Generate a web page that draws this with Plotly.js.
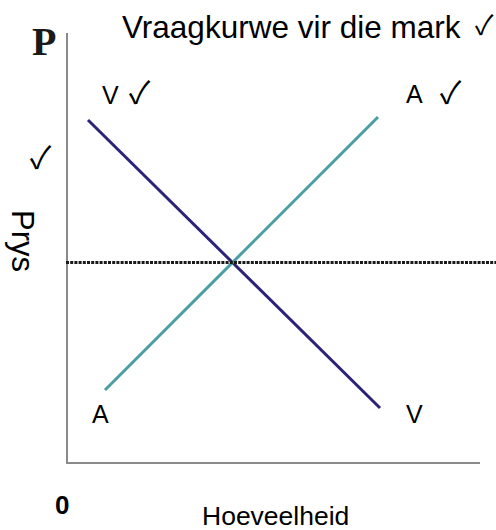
<!DOCTYPE html>
<html><head><meta charset="utf-8">
<script src="https://cdn.plot.ly/plotly-3.0.1.min.js"></script>
<style>html,body{margin:0;padding:0;background:#fff}#c{width:496px;height:530px}</style>
</head><body><div id="c"></div>
<script>
// Data (abstract units: quantity on x, price on y)
const demandQ = [20, 312];
const demandP = [342, 54];
const supplyQ = [37, 310];
const supplyP = [72, 345];
const equilibriumPrice = 199.5;
const titleText = 'Vraagkurwe vir die mark';
const checkMark = '\u2713';
const xTitle = 'Hoeveelheid';
const yTitle = 'Prys';

const F = 'Liberation Sans, Arial, sans-serif';
const CF = 'Noto Sans CJK SC, DejaVu Sans, sans-serif';
const traces = [
  {x: demandQ, y: demandP, mode: 'lines', line: {color: '#2b2279', width: 3}, hoverinfo: 'skip'},
  {x: supplyQ, y: supplyP, mode: 'lines', line: {color: '#4a9ea6', width: 3}, hoverinfo: 'skip'}
];
const ann = (text, x, y, size, extra) => Object.assign({
  text, x, y, xref: 'paper', yref: 'paper', showarrow: false, borderpad: 0,
  xanchor: 'center', yanchor: 'middle', font: {family: F, size, color: '#000'}
}, extra || {});
const chk = (x, y, size) => ann(checkMark, x, y, size, {font: {family: CF, size, color: '#000'}});
// paper coords helpers: plot area px 68..480 (x), 33..462 (y)
const px = v => (v - 68) / 412;
const py = v => (462 - v) / 429;
const layout = {
  width: 496, height: 530,
  margin: {l: 68, r: 16, t: 33, b: 68},
  paper_bgcolor: '#fff', plot_bgcolor: '#fff',
  showlegend: false,
  xaxis: {range: [0, 412], showgrid: false, zeroline: false, showticklabels: false, ticks: '',
          showline: true, linecolor: '#8a8a8a', linewidth: 2, fixedrange: true},
  yaxis: {range: [0, 429], showgrid: false, zeroline: false, showticklabels: false, ticks: '',
          showline: true, linecolor: '#8a8a8a', linewidth: 2, fixedrange: true},
  shapes: [{type: 'line', xref: 'paper', yref: 'y', x0: px(66), x1: px(496),
            y0: equilibriumPrice, y1: equilibriumPrice,
            line: {color: '#1a1a1a', width: 3, dash: '3px,1.2px'}, layer: 'above'}],
  annotations: [
    ann(titleText, px(121), py(27), 31.5, {xanchor: 'left'}),
    chk(px(484), py(24), 27),
    ann('<b>P</b>', px(44), py(42), 40, {font: {family: 'Liberation Serif, Times New Roman, serif', size: 40, color: '#1a1a1a'}}),
    ann(yTitle, px(23), py(241), 31, {textangle: 90}),
    chk(px(41), py(156), 31),
    ann('V', px(110), py(95), 25),
    chk(px(140), py(90), 31),
    ann('A', px(414), py(94), 25),
    chk(px(451), py(90), 31),
    ann('A', px(100), py(414), 25),
    ann('V', px(414), py(414), 25),
    ann('<b>0</b>', px(62), py(505), 26),
    ann(xTitle, px(275), py(516), 26.5)
  ]
};
Plotly.newPlot('c', traces, layout, {staticPlot: true, displayModeBar: false});
</script></body></html>
